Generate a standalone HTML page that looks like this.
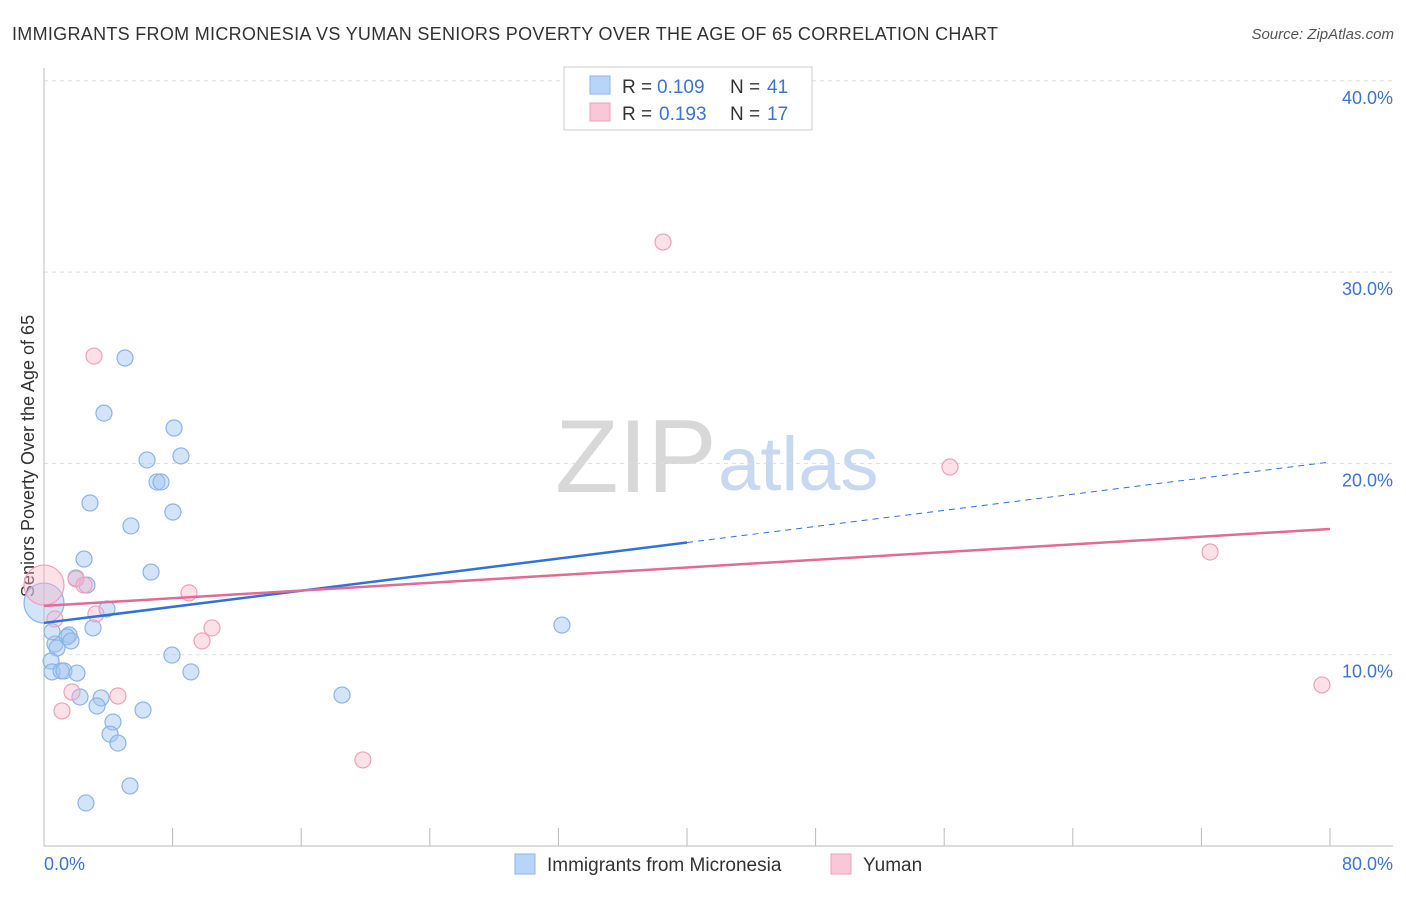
<!DOCTYPE html>
<html><head><meta charset="utf-8">
<style>
body{margin:0;background:#fff;font-family:"Liberation Sans",sans-serif;}
svg text{font-family:"Liberation Sans",sans-serif;}
</style></head>
<body>
<svg width="1406" height="892" viewBox="0 0 1406 892" xmlns="http://www.w3.org/2000/svg" id="chart">
<text x="12" y="40" font-size="18" fill="#333" textLength="986">IMMIGRANTS FROM MICRONESIA VS YUMAN SENIORS POVERTY OVER THE AGE OF 65 CORRELATION CHART</text>
<text x="1394" y="39" font-size="15" fill="#555" text-anchor="end" font-style="italic">Source: ZipAtlas.com</text>
<text x="555" y="492" font-size="104" font-family="Liberation Serif" fill="#d8d8d8">ZIP</text>
<text x="718" y="490" font-size="76" fill="#c8d8f0">atlas</text>
<text transform="translate(34,456) rotate(-90)" font-size="18" fill="#333" text-anchor="middle">Seniors Poverty Over the Age of 65</text>
<g id="grid"></g>
<g id="marks"></g>
<g>
<rect x="564" y="67" width="248" height="63" fill="#fff" stroke="#ccc"/>
<rect x="590" y="76" width="20" height="18" fill="#b8d4f8" stroke="#8ab4e8"/>
<rect x="590" y="103" width="20" height="18" fill="#f8c8d8" stroke="#f0a0b8"/>
<text x="622" y="93" font-size="19" fill="#333">R =</text>
<text x="657" y="93" font-size="19" fill="#3b74d1">0.109</text>
<text x="730" y="93" font-size="19" fill="#333">N =</text>
<text x="767" y="93" font-size="19" fill="#3b74d1">41</text>
<text x="622" y="120" font-size="19" fill="#333">R =</text>
<text x="659" y="120" font-size="19" fill="#3b74d1">0.193</text>
<text x="730" y="120" font-size="19" fill="#333">N =</text>
<text x="767" y="120" font-size="19" fill="#3b74d1">17</text>
</g>
<g>
<rect x="515" y="854" width="20" height="20" fill="#b8d4f8" stroke="#8ab4e8"/>
<text x="547" y="871" font-size="19" fill="#333">Immigrants from Micronesia</text>
<rect x="831" y="854" width="20" height="20" fill="#f8c8d8" stroke="#f0a0b8"/>
<text x="863" y="871" font-size="19" fill="#333">Yuman</text>
</g>
</svg>
<script>
const yTicks=[10,20,30,40];
const yTickLabels=["10.0%","20.0%","30.0%","40.0%"];
const xTicks=[0,8,16,24,32,40,48,56,64,72,80];
const blueX=[5.04,3.73,8.09,8.52,6.41,7.03,7.28,2.86,8.02,5.41,2.49,6.66,1.99,2.67,3.92,3.05,1.56,1.43,1.68,0.68,0.81,0.44,0.50,1.06,1.24,2.05,7.96,9.14,2.24,3.55,3.30,6.16,4.29,4.11,4.60,5.35,2.61,18.54,32.22,0.0,0.5];
const blueY=[25.51,22.63,21.85,20.39,20.18,19.03,19.03,17.93,17.46,16.73,15.00,14.32,14.01,13.64,12.39,11.40,11.03,10.93,10.72,10.56,10.35,9.67,9.10,9.15,9.15,9.04,9.98,9.10,7.79,7.74,7.32,7.11,6.48,5.85,5.38,3.14,2.25,7.89,11.55,12.70,11.2];
const pinkX=[38.51,3.11,56.36,72.54,9.02,1.99,2.49,3.23,0.68,10.45,9.83,4.60,1.74,1.12,19.84,79.50,0];
const pinkY=[31.57,25.61,19.81,15.37,13.23,13.96,13.64,12.13,11.87,11.40,10.72,7.84,8.05,7.06,4.50,8.42,13.64];
const blueTrend=[11.66,20.07];
const pinkTrend=[12.55,16.57];
const sx=v=>44+v*16.075, sy=v=>846-v*19.13;
const NS="http://www.w3.org/2000/svg";
const grid=document.getElementById('grid'), marks=document.getElementById('marks');
function mk(tag,attrs,parent){const e=document.createElementNS(NS,tag);for(const k in attrs)e.setAttribute(k,attrs[k]);parent.appendChild(e);return e;}
yTicks.forEach((t,i)=>{
 const l=mk('line',{x1:44,x2:1393,y1:sy(t),y2:sy(t),stroke:'#ddd','stroke-dasharray':'4,4'},grid);
 
 
 const tx=mk('text',{x:1393,y:sy(t)+23,'font-size':18,fill:'#3b74d1','text-anchor':'end'},grid);
 tx.textContent=yTickLabels[i];
 
 
});
const ax=mk('line',{x1:44,x2:1393,y1:846,y2:846,stroke:'#bbb'},grid);


const ay=mk('line',{x1:44,x2:44,y1:68,y2:846,stroke:'#bbb'},grid);


xTicks.forEach(t=>{const l=mk('line',{x1:sx(t),x2:sx(t),y1:828,y2:846,stroke:'#bbb'},grid);
 
 });
const x0=mk('text',{x:44,y:870,'font-size':18,fill:'#3b74d1'},grid);x0.textContent="0.0%";


const x1=mk('text',{x:1393,y:870,'font-size':18,fill:'#3b74d1','text-anchor':'end'},grid);x1.textContent="80.0%";


blueX.forEach((x,i)=>{const r=(x===0)?20:8;
 const c=mk('circle',{cx:sx(x),cy:sy(blueY[i]),r:r,fill:'rgba(160,196,240,0.45)',stroke:'#8ab4e8','stroke-width':1.2},marks);
 
 });
pinkX.forEach((x,i)=>{const r=(x===0)?20:8;
 const c=mk('circle',{cx:sx(x),cy:sy(pinkY[i]),r:r,fill:'rgba(248,180,200,0.4)',stroke:'#f0a0b8','stroke-width':1.2},marks);
 
 });
const by=x=>blueTrend[0]+(blueTrend[1]-blueTrend[0])*x/80;
const bl=mk('line',{x1:sx(0),y1:sy(by(0)),x2:sx(40),y2:sy(by(40)),stroke:'#2f72d8','stroke-width':2.5},marks);


const bd=mk('line',{x1:sx(40),y1:sy(by(40)),x2:sx(80),y2:sy(by(80)),stroke:'#2f72d8','stroke-width':1,'stroke-dasharray':'6,5'},marks);


const pl=mk('line',{x1:sx(0),y1:sy(pinkTrend[0]),x2:sx(80),y2:sy(pinkTrend[1]),stroke:'#e46a96','stroke-width':2.5},marks);


</script>
</body></html>
